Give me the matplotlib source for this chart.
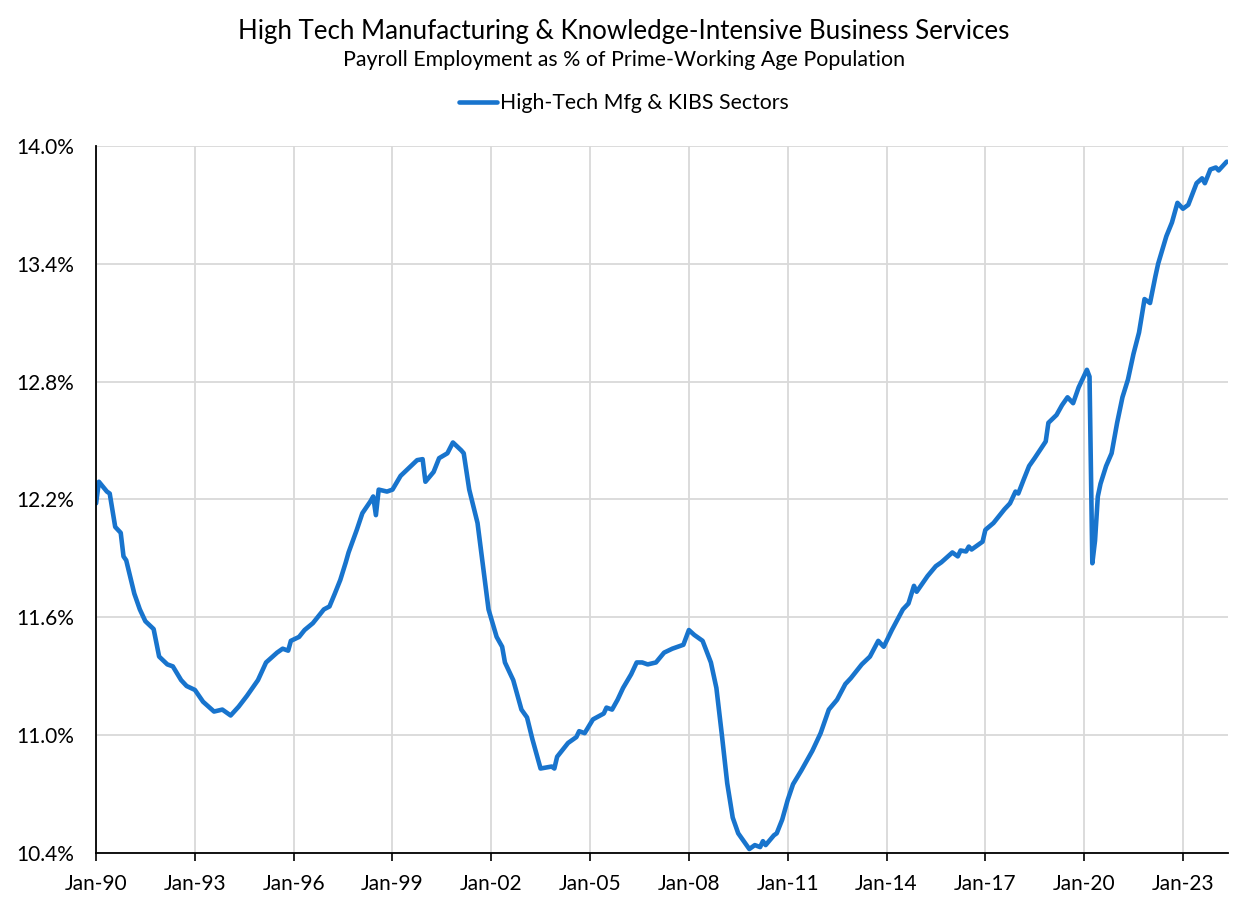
import matplotlib
matplotlib.use("Agg")
import matplotlib.pyplot as plt
import pandas as pd

plt.rcParams['font.family'] = ['Lato', 'DejaVu Sans']

# monthly readings (approximate) of the series
months = [
    "1990-01", "1990-02", "1990-05", "1990-06", "1990-08", "1990-10", "1990-11", "1990-12",
    "1991-03", "1991-05", "1991-07", "1991-10", "1991-12", "1992-03", "1992-05", "1992-08",
    "1992-10", "1993-01", "1993-04", "1993-08", "1993-11", "1994-02", "1994-05", "1994-08",
    "1994-12", "1995-03", "1995-07", "1995-09", "1995-11", "1995-12", "1996-03", "1996-05",
    "1996-08", "1996-12", "1997-02", "1997-04", "1997-06", "1997-08", "1997-09", "1997-12",
    "1998-02", "1998-05", "1998-06", "1998-07", "1998-08", "1998-11", "1999-01", "1999-04",
    "1999-07", "1999-10", "1999-12", "2000-01", "2000-04", "2000-06", "2000-09", "2000-11",
    "2001-02", "2001-03", "2001-05", "2001-08", "2001-10", "2001-12", "2002-03", "2002-05",
    "2002-06", "2002-09", "2002-12", "2003-02", "2003-04", "2003-07", "2003-11", "2003-12",
    "2004-01", "2004-05", "2004-08", "2004-09", "2004-11", "2005-02", "2005-06", "2005-07",
    "2005-09", "2005-11", "2006-01", "2006-04", "2006-06", "2006-08", "2006-10", "2007-01",
    "2007-04", "2007-07", "2007-09", "2007-11", "2008-01", "2008-03", "2008-06", "2008-09",
    "2008-11", "2009-01", "2009-03", "2009-05", "2009-07", "2009-11", "2010-01", "2010-03",
    "2010-04", "2010-05", "2010-08", "2010-09", "2010-11", "2011-01", "2011-03", "2011-06",
    "2011-10", "2012-01", "2012-04", "2012-07", "2012-10", "2012-12", "2013-04", "2013-07",
    "2013-10", "2013-12", "2014-03", "2014-07", "2014-09", "2014-11", "2014-12", "2015-04",
    "2015-07", "2015-09", "2016-01", "2016-03", "2016-04", "2016-06", "2016-07", "2016-08",
    "2016-12", "2017-01", "2017-04", "2017-08", "2017-10", "2017-12", "2018-01", "2018-03",
    "2018-05", "2018-07", "2018-11", "2018-12", "2019-03", "2019-05", "2019-07", "2019-09",
    "2019-11", "2020-02", "2020-03", "2020-04", "2020-05", "2020-06", "2020-07", "2020-09",
    "2020-11", "2021-01", "2021-03", "2021-05", "2021-07", "2021-09", "2021-11", "2022-01",
    "2022-03", "2022-04", "2022-07", "2022-09", "2022-11", "2023-01", "2023-03", "2023-06",
    "2023-08", "2023-09", "2023-11", "2024-01", "2024-02", "2024-05",
]
share = [
    12.18, 12.29, 12.24, 12.23, 12.06, 12.03, 11.91, 11.89,
    11.72, 11.64, 11.58, 11.54, 11.40, 11.36, 11.35, 11.28,
    11.25, 11.23, 11.17, 11.12, 11.13, 11.10, 11.145, 11.20,
    11.28, 11.37, 11.42, 11.44, 11.43, 11.48, 11.50, 11.535,
    11.57, 11.64, 11.655, 11.72, 11.79, 11.88, 11.93, 12.045,
    12.13, 12.19, 12.215, 12.12, 12.25, 12.24, 12.25, 12.32,
    12.36, 12.40, 12.405, 12.29, 12.34, 12.41, 12.435, 12.49,
    12.45, 12.435, 12.25, 12.08, 11.86, 11.64, 11.50, 11.45,
    11.37, 11.28, 11.13, 11.09, 10.98, 10.83, 10.84, 10.83,
    10.89, 10.96, 10.99, 11.02, 11.01, 11.08, 11.11, 11.14,
    11.13, 11.18, 11.24, 11.31, 11.37, 11.37, 11.36, 11.37,
    11.42, 11.44, 11.45, 11.46, 11.535, 11.51, 11.48, 11.37,
    11.24, 11.00, 10.755, 10.58, 10.50, 10.42, 10.44, 10.43,
    10.46, 10.44, 10.49, 10.50, 10.57, 10.67, 10.75, 10.82,
    10.92, 11.01, 11.13, 11.18, 11.26, 11.29, 11.36, 11.40,
    11.48, 11.45, 11.535, 11.64, 11.67, 11.76, 11.73, 11.81,
    11.86, 11.88, 11.93, 11.91, 11.94, 11.935, 11.96, 11.945,
    11.985, 12.045, 12.08, 12.15, 12.18, 12.24, 12.23, 12.30,
    12.37, 12.41, 12.495, 12.59, 12.63, 12.68, 12.72, 12.69,
    12.77, 12.86, 12.825, 11.875, 11.99, 12.215, 12.28, 12.37,
    12.435, 12.59, 12.72, 12.81, 12.94, 13.05, 13.22, 13.20,
    13.335, 13.40, 13.54, 13.61, 13.71, 13.68, 13.70, 13.81,
    13.835, 13.81, 13.88, 13.89, 13.875, 13.92,
]
tick_years = list(range(1990, 2024, 3))
y_ticks = [10.4, 11.0, 11.6, 12.2, 12.8, 13.4, 14.0]

dates = pd.to_datetime(months)

fig = plt.figure(figsize=(12.48, 9.05), dpi=100)
ax = fig.add_axes([0.077, 0.0575, 0.907, 0.7813])

line_color = '#1874CD'
ax.plot(dates, share, color=line_color, lw=3.3, solid_joinstyle='round',
        solid_capstyle='round', label='High-Tech Mfg & KIBS Sectors')

ax.set_ylim(10.4, 14.0)
ax.set_yticks(y_ticks)
ax.set_yticklabels([f"{v:.1f}%" for v in y_ticks], fontsize=15)
ax.set_xlim(pd.Timestamp("1990-01-01"), pd.Timestamp("2024-05-15"))
xt = [pd.Timestamp(f"{y}-01-01") for y in tick_years]
ax.set_xticks(xt)
ax.set_xticklabels([f"Jan-{str(y)[2:]}" for y in tick_years], fontsize=15)

ax.grid(True, color='#d9d9d9', lw=1.3)
ax.set_axisbelow(True)
for s in ['top', 'right']:
    ax.spines[s].set_visible(False)
for s in ['left', 'bottom']:
    ax.spines[s].set_color('black')
    ax.spines[s].set_linewidth(1.3)
ax.tick_params(axis='y', length=0, pad=16)
ax.tick_params(axis='x', direction='out', length=6, width=1.2, pad=9)

fig.text(0.5, 1 - 32 / 905, "High Tech Manufacturing & Knowledge-Intensive Business Services",
         ha='center', va='center', fontsize=18.6)
fig.text(0.5, 1 - 60 / 905, "Payroll Employment as % of Prime-Working Age Population",
         ha='center', va='center', fontsize=15.4)
fig.legend(loc='center', bbox_to_anchor=(0.5, 1 - 103 / 905), frameon=False,
           fontsize=15.3, handlelength=1.8, handletextpad=0.15)

fig.savefig("out.png", dpi=100)
